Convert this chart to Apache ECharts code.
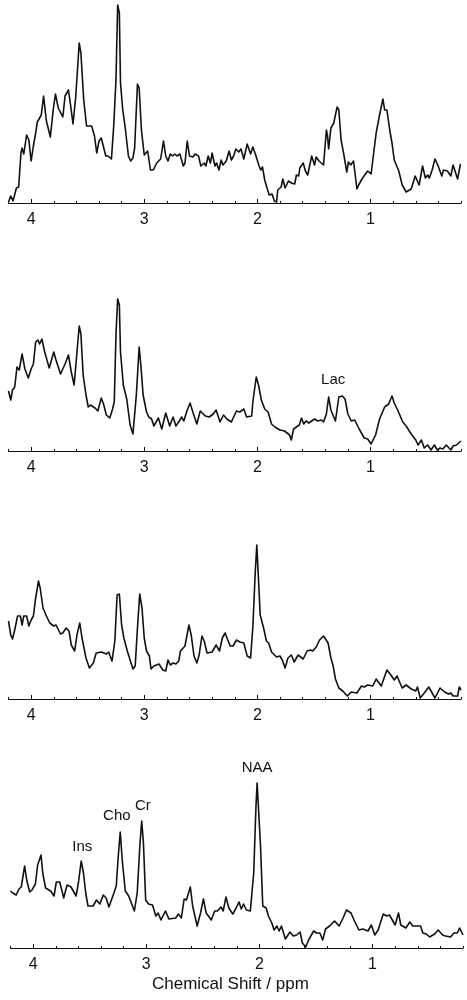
<!DOCTYPE html>
<html lang="en">
<head>
  <meta charset="UTF-8">
  <title>Chemical Shift spectra</title>
  <script src="https://cdn.jsdelivr.net/npm/echarts@6/dist/echarts.min.js"></script>
  <style>
    html, body { margin: 0; padding: 0; background: #fff; }
  </style>
</head>
<body>
<div id="box" style="width: 467px;height: 1000px;"></div>
<script>
  // spectrum 1 (top)
  var ppm1 = [4.20,4.18,4.16,4.13,4.11,4.09,4.08,4.065,4.055,4.04,4.02,4.00,3.98,3.96,3.945,3.925,3.91,3.89,3.865,3.83,3.805,3.785,3.76,3.72,3.70,3.67,3.65,3.63,3.605,3.575,3.56,3.535,3.51,3.495,3.465,3.44,3.42,3.40,3.38,3.34,3.32,3.29,3.27,3.25,3.235,3.22,3.21,3.19,3.17,3.14,3.12,3.10,3.085,3.06,3.045,3.025,3.00,2.97,2.945,2.92,2.89,2.855,2.83,2.81,2.79,2.77,2.75,2.73,2.71,2.685,2.655,2.64,2.62,2.60,2.57,2.55,2.52,2.50,2.47,2.455,2.435,2.415,2.40,2.375,2.36,2.34,2.32,2.305,2.275,2.25,2.23,2.21,2.19,2.165,2.145,2.12,2.09,2.06,2.04,2.015,1.985,1.97,1.955,1.935,1.915,1.895,1.87,1.85,1.83,1.82,1.79,1.775,1.755,1.725,1.70,1.67,1.655,1.635,1.625,1.595,1.575,1.555,1.52,1.495,1.48,1.455,1.44,1.415,1.39,1.38,1.37,1.35,1.325,1.295,1.28,1.26,1.235,1.21,1.195,1.175,1.15,1.12,1.105,1.07,1.025,0.995,0.975,0.95,0.92,0.905,0.89,0.875,0.855,0.83,0.81,0.79,0.75,0.72,0.685,0.64,0.605,0.57,0.54,0.515,0.495,0.48,0.455,0.43,0.405,0.39,0.37,0.355,0.32,0.29,0.27,0.255,0.23,0.205];
  var int1 = [1,7,2,15,16,50,55,49,48,68,63,42,57,70,81,85,88,107,82,66,93,109,95,86,107,113,97,79,107,160,150,103,77,79,77,67,50,62,65,47,47,44,77,123,198,190,120,93,77,47,42,45,55,119,115,73,48,52,33,33,40,44,62,47,42,49,47,49,47,49,37,40,62,47,46,49,47,37,40,37,47,40,50,37,40,33,43,38,42,52,43,47,54,51,54,44,59,49,56,48,37,33,36,23,15,8,9,2,1,13,16,24,15,22,20,19,28,27,35,40,32,28,47,38,46,42,42,38,73,67,54,75,80,96,93,63,48,31,41,38,42,14,18,25,32,29,47,70,88,90,104,93,93,73,60,43,32,18,11,14,27,18,37,25,28,25,33,44,38,39,27,33,32,27,38,37,24,39];

  // spectrum 2
  var ppm2 = [4.20,4.18,4.165,4.145,4.125,4.105,4.08,4.055,4.025,4.00,3.98,3.96,3.94,3.925,3.905,3.88,3.84,3.82,3.80,3.78,3.74,3.70,3.67,3.645,3.62,3.60,3.575,3.56,3.54,3.515,3.495,3.475,3.435,3.41,3.38,3.36,3.335,3.305,3.28,3.265,3.25,3.235,3.22,3.21,3.185,3.155,3.125,3.10,3.085,3.07,3.045,3.03,3.01,2.98,2.96,2.935,2.915,2.875,2.845,2.83,2.81,2.775,2.745,2.72,2.69,2.67,2.65,2.62,2.595,2.565,2.535,2.505,2.46,2.425,2.39,2.365,2.33,2.30,2.27,2.23,2.21,2.185,2.155,2.12,2.095,2.05,2.04,2.01,1.99,1.965,1.935,1.905,1.875,1.845,1.80,1.76,1.715,1.70,1.68,1.63,1.61,1.59,1.57,1.545,1.495,1.465,1.435,1.415,1.39,1.37,1.35,1.31,1.28,1.25,1.225,1.20,1.17,1.14,1.10,1.055,1.025,0.995,0.955,0.92,0.875,0.84,0.81,0.79,0.76,0.715,0.685,0.64,0.60,0.58,0.55,0.525,0.495,0.465,0.435,0.41,0.385,0.36,0.33,0.29,0.27,0.24,0.20];
  var int2 = [60,51,61,64,84,81,97,82,73,82,87,109,111,107,112,99,83,91,99,91,77,87,96,79,66,92,125,117,76,56,44,46,43,40,53,47,36,33,42,49,116,152,146,99,66,52,26,17,19,56,104,86,56,39,34,32,25,33,22,24,38,25,34,25,30,34,30,41,48,37,27,40,35,34,37,41,29,36,32,29,34,40,39,42,34,35,49,74,66,51,42,39,27,24,21,20,16,11,22,26,33,27,30,28,32,30,31,29,37,54,41,30,54,55,52,37,30,31,22,13,12,7,16,32,44,47,55,48,41,29,25,17,11,6,11,3,6,1,6,1,3,2,6,1,5,6,10];

  // spectrum 3
  var ppm3 = [4.20,4.18,4.165,4.145,4.12,4.095,4.08,4.065,4.04,4.02,4.00,3.98,3.96,3.935,3.92,3.895,3.865,3.835,3.82,3.80,3.78,3.74,3.72,3.69,3.665,3.645,3.615,3.595,3.57,3.55,3.515,3.485,3.45,3.425,3.38,3.335,3.315,3.285,3.26,3.24,3.22,3.20,3.18,3.15,3.125,3.10,3.08,3.06,3.04,3.02,3.00,2.98,2.955,2.94,2.915,2.90,2.87,2.835,2.81,2.79,2.77,2.745,2.72,2.695,2.68,2.64,2.605,2.585,2.56,2.535,2.515,2.49,2.47,2.445,2.40,2.365,2.335,2.31,2.285,2.265,2.24,2.215,2.185,2.155,2.12,2.09,2.06,2.04,2.02,2.005,1.995,1.975,1.945,1.92,1.90,1.875,1.83,1.80,1.78,1.755,1.73,1.70,1.675,1.64,1.595,1.56,1.53,1.51,1.48,1.45,1.415,1.375,1.35,1.33,1.31,1.28,1.245,1.205,1.17,1.12,1.08,1.055,1.025,0.98,0.95,0.905,0.855,0.82,0.79,0.765,0.72,0.685,0.64,0.60,0.585,0.56,0.525,0.485,0.45,0.43,0.385,0.345,0.31,0.29,0.27,0.23,0.215,0.20];
  var int3 = [78,64,60,69,83,83,74,83,83,73,79,83,101,118,111,91,83,76,78,73,74,65,66,71,68,54,48,64,76,61,41,31,36,46,47,45,47,38,58,104,105,74,61,48,39,30,33,71,105,91,61,48,43,30,33,34,35,29,28,39,34,36,35,38,48,53,74,64,43,36,44,63,58,46,47,54,48,61,66,60,53,53,59,57,56,43,41,72,124,154,131,84,71,58,56,47,42,43,39,31,41,44,37,44,40,48,49,48,52,59,63,56,41,33,20,11,8,3,7,6,13,12,14,13,20,13,29,24,19,23,11,14,10,8,12,1,6,12,5,1,11,7,5,6,3,3,12,9];

  // spectrum 4 (bottom)
  var ppm4 = [4.20,4.18,4.15,4.125,4.105,4.075,4.055,4.03,4.01,3.98,3.96,3.93,3.915,3.89,3.845,3.815,3.795,3.765,3.74,3.73,3.70,3.665,3.62,3.60,3.575,3.555,3.535,3.515,3.47,3.44,3.41,3.38,3.355,3.33,3.295,3.265,3.25,3.23,3.21,3.185,3.155,3.125,3.105,3.08,3.055,3.04,3.025,3.005,2.98,2.945,2.915,2.895,2.87,2.83,2.80,2.74,2.715,2.69,2.665,2.645,2.61,2.59,2.55,2.52,2.495,2.47,2.455,2.425,2.395,2.37,2.34,2.32,2.295,2.27,2.235,2.21,2.18,2.16,2.14,2.115,2.08,2.05,2.03,2.02,2.005,1.99,1.97,1.94,1.92,1.89,1.87,1.845,1.825,1.805,1.77,1.73,1.70,1.67,1.64,1.62,1.59,1.565,1.52,1.495,1.465,1.44,1.415,1.38,1.335,1.295,1.26,1.23,1.19,1.16,1.12,1.085,1.04,1.01,0.98,0.95,0.905,0.875,0.85,0.80,0.77,0.75,0.705,0.67,0.645,0.575,0.555,0.525,0.495,0.45,0.42,0.38,0.355,0.31,0.28,0.25,0.23,0.20];
  var int4 = [57,55,53,59,61,82,67,56,58,64,83,93,75,60,57,52,66,66,55,50,63,61,52,65,87,75,55,42,42,48,44,53,50,41,52,62,88,116,85,57,52,43,37,55,105,127,105,48,44,43,32,35,28,37,29,30,34,30,49,48,61,42,22,35,49,35,37,28,37,37,41,37,51,40,34,39,46,39,44,38,37,75,142,165,165,102,42,40,32,25,18,22,17,22,9,16,12,13,16,5,1,8,17,15,15,8,19,22,27,22,30,38,35,27,18,19,17,23,13,18,34,32,33,23,35,23,20,26,22,22,15,14,11,14,18,13,12,11,15,15,20,13];

  var tickLabels = [4, 3, 2, 1];
  var minorTicks = [4.2,3.8,3.6,3.4,3.2,2.8,2.6,2.4,2.2,1.8,1.6,1.4,1.2,0.8,0.6,0.4,0.2];

  // peak names with the ppm / height they sit at
  var lacLabel = {name: 'Lac', coord: [1.33, 71]};
  var peakLabels = [
    {name: 'Ins', coord: [3.566, 101]},
    {name: 'Cho', coord: [3.26, 132]},
    {name: 'Cr', coord: [3.03, 142]},
    {name: 'NAA', coord: [2.02, 180]}
  ];

  var spectra = [
    {ppm: ppm1, values: int1, left: 8.5, bottom: 203, max: 203, labels: []},
    {ppm: ppm2, values: int2, left: 8.5, bottom: 451, max: 160, labels: [lacLabel]},
    {ppm: ppm3, values: int3, left: 8.5, bottom: 699, max: 160, labels: []},
    {ppm: ppm4, values: int4, left: 10.5, bottom: 948, max: 190, labels: peakLabels}
  ];

  var font = '"Liberation Sans", Arial, sans-serif';
  var grid = [], xAxis = [], yAxis = [], series = [];

  spectra.forEach(function (s, i) {
    grid.push({left: s.left, top: s.bottom - s.max, width: 452.5, height: s.max});
    // major ticks with the labels
    xAxis.push({
      type: 'value', gridIndex: i, position: 'bottom', inverse: true, min: 0.2, max: 4.2,
      splitLine: {show: false},
      axisLine: {show: true, lineStyle: {color: '#111', width: 1.2}},
      axisTick: {show: true, inside: true, length: 4, customValues: tickLabels, lineStyle: {color: '#111', width: 1}},
      axisLabel: {show: true, customValues: tickLabels, margin: 9, fontSize: 16, fontFamily: font, color: '#111'}
    });
    // minor ticks every 0.2 ppm
    xAxis.push({
      type: 'value', gridIndex: i, position: 'bottom', inverse: true, min: 0.2, max: 4.2,
      splitLine: {show: false},
      axisLine: {show: false},
      axisTick: {show: true, inside: true, length: 2, customValues: minorTicks, lineStyle: {color: '#111', width: 1}},
      axisLabel: {show: false}
    });
    yAxis.push({type: 'value', gridIndex: i, min: 0, max: s.max, show: false});
    series.push({
      type: 'line',
      xAxisIndex: i * 2,
      yAxisIndex: i,
      showSymbol: false,
      animation: false,
      lineStyle: {color: '#111', width: 1.6, join: 'round'},
      data: s.ppm.map(function (p, k) { return [p, s.values[k]]; }),
      markPoint: {
        symbol: 'circle', symbolSize: 0, animation: false,
        label: {show: true, position: 'inside', formatter: '{b}', fontSize: 15, fontFamily: font, color: '#111'},
        data: s.labels
      }
    });
  });

  var myChart = echarts.init(document.getElementById('box'));
  myChart.setOption({
    animation: false,
    backgroundColor: '#fff',
    title: {
      text: 'Chemical Shift / ppm', left: 152, top: 976, padding: 0,
      textStyle: {fontSize: 17, fontWeight: 'normal', fontFamily: font, color: '#111'}
    },
    grid: grid,
    xAxis: xAxis,
    yAxis: yAxis,
    series: series
  });
</script>
</body>
</html>
